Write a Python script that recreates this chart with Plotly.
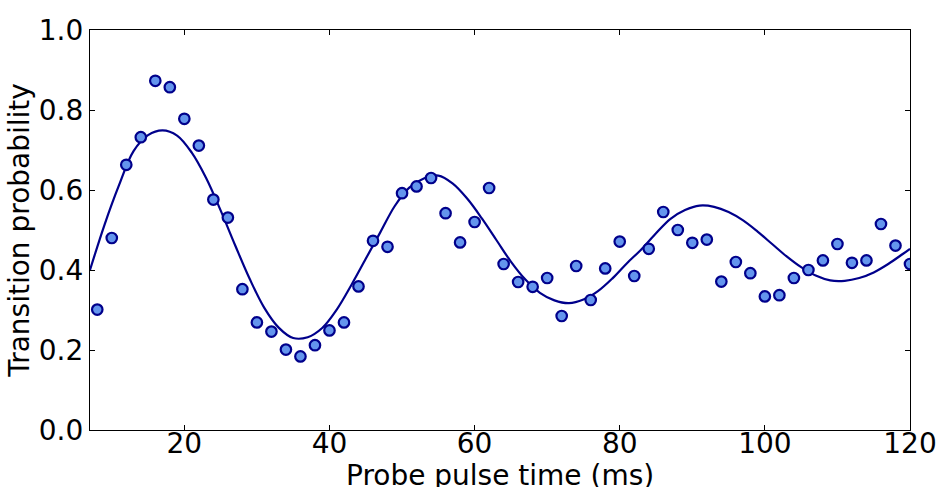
import plotly.graph_objects as go

# Measured data points
pulse_time = [8, 10, 12, 14, 16, 18, 20, 22, 24, 26, 28, 30, 32, 34, 36, 38, 40, 42,
              44, 46, 48, 50, 52, 54, 56, 58, 60, 62, 64, 66, 68, 70, 72, 74, 76, 78,
              80, 82, 84, 86, 88, 90, 92, 94, 96, 98, 100, 102, 104, 106, 108, 110,
              112, 114, 116, 118, 120]
probability = [0.301, 0.480, 0.663, 0.732, 0.873, 0.857, 0.778, 0.711, 0.576, 0.531,
               0.352, 0.269, 0.246, 0.201, 0.184, 0.212, 0.249, 0.269, 0.359, 0.473,
               0.458, 0.592, 0.609, 0.630, 0.542, 0.469, 0.520, 0.605, 0.415, 0.370,
               0.358, 0.380, 0.285, 0.410, 0.325, 0.404, 0.471, 0.385, 0.453, 0.545,
               0.500, 0.468, 0.476, 0.371, 0.420, 0.392, 0.334, 0.337, 0.380, 0.400,
               0.424, 0.465, 0.418, 0.424, 0.515, 0.461, 0.415]

# Fitted curve
fit_time = [7, 9, 11, 13, 15, 17, 19, 21, 23, 25, 27, 29, 31, 33, 35, 37, 39, 41, 43,
            45, 47, 49, 51, 53, 55, 57, 59, 61, 63, 65, 67, 69, 71, 73, 75, 77, 79, 81,
            83, 85, 87, 89, 91, 93, 95, 97, 99, 101, 103, 105, 107, 109, 111, 113, 115,
            117, 119, 120]
fit_prob = [0.400, 0.513, 0.612, 0.697, 0.737, 0.749, 0.736, 0.694, 0.630, 0.549,
            0.462, 0.378, 0.306, 0.256, 0.230, 0.232, 0.255, 0.301, 0.362, 0.428,
            0.494, 0.560, 0.606, 0.629, 0.636, 0.616, 0.578, 0.529, 0.475, 0.421,
            0.376, 0.343, 0.324, 0.317, 0.326, 0.347, 0.379, 0.417, 0.452, 0.492,
            0.528, 0.550, 0.561, 0.558, 0.545, 0.524, 0.496, 0.465, 0.434, 0.407,
            0.386, 0.374, 0.373, 0.380, 0.394, 0.415, 0.440, 0.453]

x_ticks = [20, 40, 60, 80, 100, 120]
y_ticks = [0.0, 0.2, 0.4, 0.6, 0.8, 1.0]
x_title = "Probe pulse time (ms)"
y_title = "Transition probability"

fig = go.Figure()
fig.add_trace(go.Scatter(
    x=fit_time, y=fit_prob, mode="lines",
    line=dict(color="#00008B", width=2.2, shape="spline", smoothing=1.0),
    hoverinfo="skip", showlegend=False))
fig.add_trace(go.Scatter(
    x=pulse_time, y=probability, mode="markers",
    marker=dict(size=10.5, color="#6495ED", line=dict(color="#00008B", width=2.2)),
    showlegend=False))

axis_common = dict(
    showline=True, linecolor="black", linewidth=1.2, mirror="allticks",
    ticks="inside", ticklen=5, tickwidth=1, tickcolor="black",
    showgrid=False, zeroline=False,
    tickfont=dict(family="DejaVu Sans", size=28, color="black"),
)

fig.update_xaxes(range=[7, 120], tickvals=x_ticks, ticklabelstandoff=-12,
                 **axis_common)
fig.update_yaxes(range=[0, 1], tickvals=y_ticks, tickformat=".1f",
                 title=dict(text=y_title,
                            font=dict(family="DejaVu Sans", size=28, color="black"),
                            standoff=0),
                 **axis_common)

fig.add_annotation(
    text=x_title, xref="paper", yref="paper", x=0.5, y=-0.068,
    xanchor="center", yanchor="top", showarrow=False,
    font=dict(family="DejaVu Sans", size=28, color="black"),
)

fig.update_layout(
    width=939, height=487,
    margin=dict(l=90, r=29, t=30, b=57, autoexpand=False),
    plot_bgcolor="white", paper_bgcolor="white",
    font=dict(family="DejaVu Sans", color="black"),
)

fig.write_html(
    "out.html",
    config={"displayModeBar": False},
    post_script="document.body.style.margin='0px';document.body.style.overflow='hidden';",
)
